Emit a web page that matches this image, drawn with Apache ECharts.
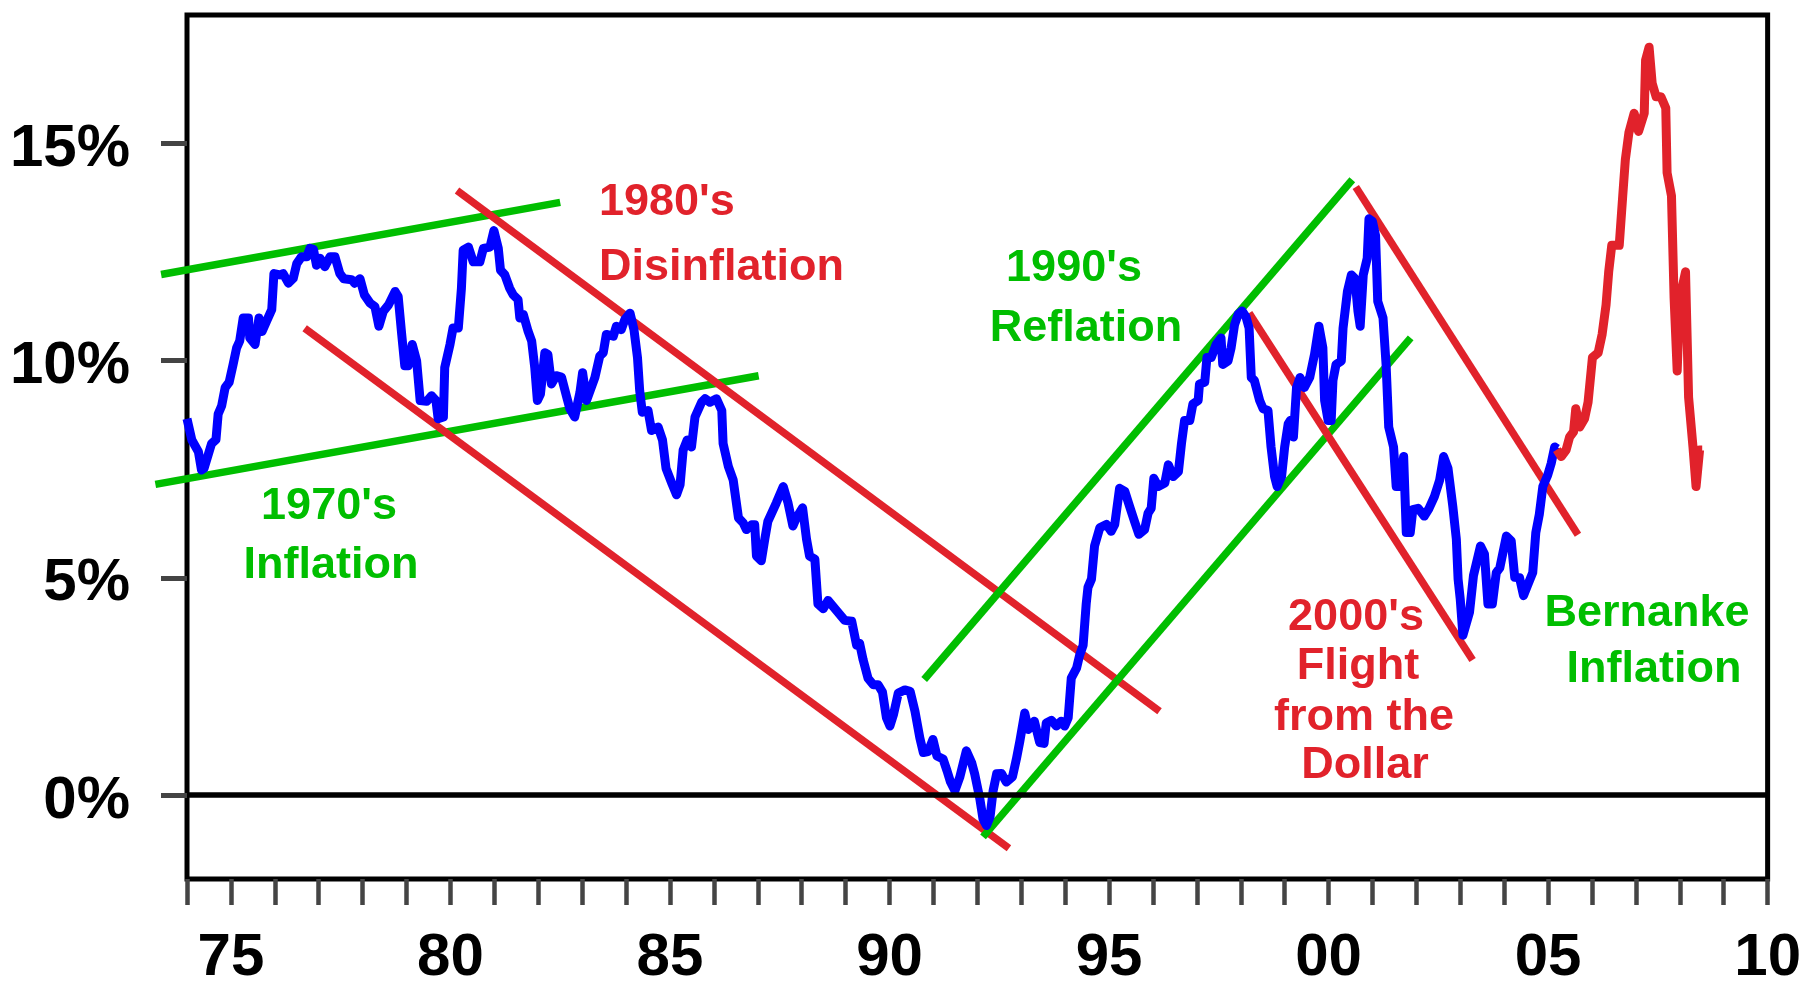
<!DOCTYPE html>
<html><head><meta charset="utf-8">
<script src="https://cdn.jsdelivr.net/npm/echarts@6/dist/echarts.min.js"></script>
<style>html,body{margin:0;padding:0;background:#fff}#c{width:1804px;height:988px}</style>
</head><body><div id="c"></div>
<script>
// ---- tick labels ----
const xLabelYears = [1975, 1980, 1985, 1990, 1995, 2000, 2005, 2010];
const yTickValues = [0, 5, 10, 15];

// ---- main series (year, percent) ----
const seriesBlue = [
[1974.00,8.66],[1974.11,8.17],[1974.26,7.90],[1974.33,7.48],[1974.39,7.52],[1974.56,8.09],[1974.66,8.18],[1974.71,8.77],
[1974.79,8.96],[1974.87,9.38],[1974.96,9.50],[1975.05,9.91],[1975.13,10.29],[1975.20,10.45],[1975.28,10.98],[1975.40,10.98],
[1975.43,10.52],[1975.55,10.37],[1975.64,10.98],[1975.71,10.67],[1975.81,10.90],[1975.93,11.17],[1975.98,12.00],[1976.12,11.97],
[1976.19,12.00],[1976.31,11.78],[1976.42,11.89],[1976.50,12.23],[1976.61,12.39],[1976.73,12.39],[1976.80,12.58],[1976.88,12.56],
[1976.95,12.19],[1977.03,12.35],[1977.14,12.16],[1977.26,12.39],[1977.37,12.39],[1977.48,12.00],[1977.57,11.88],[1977.75,11.86],
[1977.82,11.78],[1977.94,11.88],[1978.04,11.51],[1978.17,11.32],[1978.28,11.24],[1978.37,10.79],[1978.47,11.13],[1978.59,11.28],
[1978.74,11.59],[1978.81,11.47],[1978.89,10.60],[1978.96,9.88],[1979.04,9.88],[1979.13,10.37],[1979.23,9.99],[1979.31,9.08],
[1979.46,9.06],[1979.57,9.19],[1979.67,9.08],[1979.72,8.66],[1979.84,8.70],[1979.87,9.84],[1979.99,10.37],[1980.06,10.75],
[1980.18,10.75],[1980.25,11.66],[1980.29,12.54],[1980.41,12.61],[1980.52,12.27],[1980.67,12.27],[1980.75,12.58],[1980.90,12.61],
[1980.99,12.99],[1981.09,12.58],[1981.14,12.08],[1981.24,11.97],[1981.35,11.66],[1981.43,11.51],[1981.54,11.40],[1981.58,10.98],
[1981.66,11.06],[1981.77,10.67],[1981.85,10.45],[1981.92,9.84],[1981.98,9.08],[1982.05,9.23],[1982.15,10.18],[1982.22,10.14],
[1982.30,9.46],[1982.41,9.65],[1982.53,9.62],[1982.65,9.15],[1982.72,8.89],[1982.83,8.70],[1982.95,9.27],[1983.01,9.72],
[1983.10,9.08],[1983.29,9.61],[1983.40,10.10],[1983.48,10.18],[1983.55,10.60],[1983.71,10.56],[1983.78,10.79],[1983.89,10.71],
[1983.97,10.94],[1984.09,11.09],[1984.18,10.71],[1984.26,10.07],[1984.31,9.31],[1984.37,8.81],[1984.50,8.85],[1984.58,8.39],
[1984.73,8.47],[1984.83,8.17],[1984.91,7.52],[1985.04,7.18],[1985.15,6.91],[1985.23,7.14],[1985.30,7.94],[1985.39,8.17],
[1985.49,8.01],[1985.57,8.70],[1985.72,9.04],[1985.80,9.12],[1985.91,9.04],[1986.06,9.12],[1986.18,8.85],[1986.21,8.09],
[1986.33,7.56],[1986.44,7.25],[1986.56,6.38],[1986.67,6.26],[1986.74,6.11],[1986.86,6.22],[1986.93,6.22],[1986.97,5.50],
[1987.08,5.39],[1987.16,5.89],[1987.23,6.30],[1987.42,6.72],[1987.58,7.10],[1987.69,6.72],[1987.80,6.19],[1987.88,6.38],
[1988.02,6.61],[1988.11,5.89],[1988.18,5.50],[1988.30,5.43],[1988.37,4.40],[1988.49,4.29],[1988.60,4.48],[1988.79,4.25],
[1988.98,4.02],[1989.14,4.00],[1989.25,3.45],[1989.32,3.49],[1989.40,3.11],[1989.51,2.69],[1989.63,2.54],[1989.74,2.54],
[1989.84,2.37],[1989.93,1.78],[1990.01,1.59],[1990.09,1.85],[1990.20,2.35],[1990.35,2.42],[1990.47,2.39],[1990.58,1.93],
[1990.69,1.32],[1990.77,0.98],[1990.88,1.00],[1990.99,1.28],[1991.08,0.90],[1991.22,0.83],[1991.31,0.56],[1991.39,0.30],
[1991.49,0.10],[1991.60,0.41],[1991.75,1.02],[1991.87,0.75],[1991.94,0.49],[1992.06,-0.10],[1992.13,-0.55],[1992.21,-0.70],
[1992.29,-0.50],[1992.36,0.10],[1992.44,0.49],[1992.55,0.50],[1992.66,0.30],[1992.80,0.42],[1992.89,0.83],[1992.97,1.25],
[1993.08,1.89],[1993.16,1.51],[1993.30,1.70],[1993.42,1.21],[1993.52,1.19],[1993.57,1.66],[1993.69,1.72],[1993.80,1.59],
[1993.91,1.70],[1993.99,1.59],[1994.07,1.78],[1994.14,2.69],[1994.26,2.92],[1994.33,3.22],[1994.41,3.45],[1994.48,4.40],
[1994.52,4.78],[1994.60,4.97],[1994.67,5.73],[1994.79,6.15],[1994.94,6.23],[1995.05,6.07],[1995.13,6.23],[1995.24,7.06],
[1995.36,6.99],[1995.47,6.64],[1995.58,6.30],[1995.68,6.00],[1995.81,6.11],[1995.89,6.49],[1995.96,6.60],[1996.02,7.29],
[1996.12,7.10],[1996.27,7.18],[1996.35,7.60],[1996.46,7.33],[1996.58,7.44],[1996.65,8.09],[1996.72,8.62],[1996.84,8.62],
[1996.91,9.00],[1997.03,9.08],[1997.06,9.46],[1997.18,9.50],[1997.23,10.07],[1997.33,10.07],[1997.44,10.37],[1997.55,10.52],
[1997.59,9.91],[1997.71,9.99],[1997.78,10.29],[1997.86,10.83],[1997.94,11.06],[1998.03,11.14],[1998.12,11.00],[1998.19,10.75],
[1998.24,9.61],[1998.31,9.54],[1998.43,9.08],[1998.51,8.89],[1998.62,8.85],[1998.69,8.01],[1998.77,7.33],[1998.83,7.10],
[1998.93,7.33],[1999.00,8.01],[1999.08,8.54],[1999.13,8.62],[1999.20,8.24],[1999.27,9.38],[1999.35,9.61],[1999.45,9.38],
[1999.57,9.61],[1999.68,10.14],[1999.78,10.79],[1999.87,10.29],[1999.91,9.08],[1999.99,8.62],[2000.06,8.62],[2000.10,9.54],
[2000.17,9.91],[2000.29,9.99],[2000.33,10.75],[2000.43,11.59],[2000.52,11.97],[2000.60,11.89],[2000.67,11.13],[2000.72,10.79],
[2000.79,11.97],[2000.88,12.35],[2000.92,13.26],[2001.00,13.20],[2001.07,12.88],[2001.12,11.36],[2001.24,10.98],[2001.31,9.91],
[2001.37,8.47],[2001.48,8.01],[2001.54,7.10],[2001.62,7.10],[2001.71,7.79],[2001.77,6.04],[2001.86,6.04],[2001.92,6.57],
[2002.04,6.60],[2002.18,6.42],[2002.29,6.60],[2002.41,6.87],[2002.53,7.25],[2002.62,7.79],[2002.72,7.52],[2002.83,6.64],
[2002.91,5.89],[2002.95,4.97],[2003.00,4.50],[2003.06,3.68],[2003.21,4.21],[2003.30,5.05],[2003.46,5.73],[2003.55,5.55],
[2003.63,4.40],[2003.73,4.40],[2003.82,5.12],[2003.90,5.23],[2004.05,5.96],[2004.16,5.85],[2004.24,5.01],[2004.35,5.00],
[2004.44,4.59],[2004.53,4.82],[2004.65,5.12],[2004.72,6.04],[2004.80,6.46],[2004.88,7.10],[2004.99,7.36],[2005.07,7.63],
[2005.15,8.01],[2005.21,7.97]
];
const seriesRed = [
[2005.20,7.95],[2005.30,7.79],[2005.41,7.94],[2005.49,8.24],[2005.58,8.36],[2005.63,8.89],[2005.72,8.47],[2005.83,8.66],
[2005.91,9.04],[2006.01,10.07],[2006.14,10.18],[2006.23,10.60],[2006.32,11.28],[2006.38,12.04],[2006.45,12.65],[2006.62,12.65],
[2006.70,13.79],[2006.76,14.63],[2006.84,15.24],[2006.96,15.69],[2007.06,15.27],[2007.19,15.69],[2007.22,16.91],[2007.30,17.21],
[2007.37,16.38],[2007.46,16.07],[2007.57,16.07],[2007.68,15.81],[2007.71,14.32],[2007.81,13.79],[2007.87,11.43],[2007.94,9.76],
[2008.00,11.43],[2008.13,12.04],[2008.20,9.15],[2008.30,8.01],[2008.37,7.10],[2008.45,7.94],[2008.51,7.94]
];

// ---- trend channels: [startYear, startPct, endYear, endPct] ----
const trend70sUpper = [1973.41, 11.98, 1982.50, 13.64];
const trend70sLower = [1973.28, 7.15, 1987.02, 9.65];
const trend80sUpper = [1980.15, 13.91, 1996.15, 1.93];
const trend80sLower = [1976.68, 10.74, 1992.72, -1.22];
const trend90sUpper = [1990.79, 2.66, 2000.54, 14.16];
const trend90sLower = [1992.13, -0.96, 2001.87, 10.52];
const trend00sUpper = [2000.62, 13.99, 2005.68, 5.99];
const trend00sLower = [1998.19, 11.09, 2003.28, 3.11];
const zeroLine = [0];

const BLUE = '#0000FF', RED = '#E1222B', GREEN = '#00BE00';
const FONT = '"Liberation Sans", Arial, Helvetica, sans-serif';

function trend(seg, color) {
  return {
    type: 'custom', data: [seg], silent: true, clip: false, z: 2, animation: false,
    encode: { x: [0, 2], y: [1, 3] },
    renderItem: function (params, api) {
      const p1 = api.coord([api.value(0), api.value(1)]);
      const p2 = api.coord([api.value(2), api.value(3)]);
      return { type: 'line', shape: { x1: p1[0], y1: p1[1], x2: p2[0], y2: p2[1] },
        style: { stroke: color, lineWidth: 7.5, lineCap: 'butt' } };
    }
  };
}

const chart = echarts.init(document.getElementById('c'), null, { renderer: 'canvas' });
const annotFont = 'bold 45px ' + FONT;
function note(text, x, y, color, align) {
  return { type: 'text', x: x, y: y, z: 10, silent: true,
    style: { text: text, fill: color, font: annotFont, align: align || 'center', verticalAlign: 'middle' } };
}

chart.setOption({
  animation: false,
  backgroundColor: '#fff',
  grid: { left: 187, right: 36, top: 15, bottom: 102, show: true, borderColor: '#000', borderWidth: 5, backgroundColor: 'transparent', containLabel: false },
  xAxis: {
    type: 'value', min: 1974, max: 2010, interval: 1, position: 'bottom',
    axisLine: { show: false, onZero: false },
    splitLine: { show: false },
    axisTick: { show: true, inside: false, length: 26, lineStyle: { color: '#444', width: 4.5 } },
    axisLabel: {
      customValues: xLabelYears, margin: 49, color: '#000', fontSize: 60, fontWeight: 'bold', fontFamily: FONT,
      formatter: function (v) { const r = Math.round(v) % 100; return (r < 10 ? '0' : '') + r; }
    }
  },
  yAxis: {
    type: 'value', min: -1.93, max: 17.95,
    axisLine: { show: false, onZero: false },
    splitLine: { show: false },
    axisTick: { show: true, customValues: yTickValues, length: 26, lineStyle: { color: '#444', width: 5 } },
    axisLabel: {
      customValues: yTickValues, margin: 57, color: '#000', fontSize: 60, fontWeight: 'bold', fontFamily: FONT,
      verticalAlign: 'top', lineHeight: 12,
      formatter: function (v) { return v + '%'; }
    }
  },
  series: [
    { type: 'line', data: [], z: 1, silent: true, showSymbol: false,
      markLine: { silent: true, symbol: ['none', 'none'], label: { show: false }, animation: false,
        lineStyle: { color: '#000', width: 5.5, type: 'solid' }, data: zeroLine.map(function (v) { return { yAxis: v }; }) } },
    trend(trend70sUpper, GREEN),
    trend(trend70sLower, GREEN),
    trend(trend80sUpper, RED),
    trend(trend80sLower, RED),
    trend(trend90sUpper, GREEN),
    trend(trend90sLower, GREEN),
    trend(trend00sUpper, RED),
    trend(trend00sLower, RED),
    { type: 'line', data: seriesBlue, showSymbol: false, symbol: 'none', z: 3, silent: true,
      lineStyle: { color: BLUE, width: 9, join: 'round' } },
    { type: 'line', data: seriesRed, showSymbol: false, symbol: 'none', z: 3, silent: true,
      lineStyle: { color: RED, width: 9, join: 'round' } }
  ],
  graphic: [
    note("1980's", 599, 203, RED, 'left'),
    note('Disinflation', 599, 268, RED, 'left'),
    note("1970's", 329, 507, GREEN),
    note('Inflation', 331, 566, GREEN),
    note("1990's", 1074, 269, GREEN),
    note('Reflation', 1086, 329, GREEN),
    note("2000's", 1356, 618, RED),
    note('Flight', 1358, 667, RED),
    note('from the', 1364, 718, RED),
    note('Dollar', 1365, 766, RED),
    note('Bernanke', 1647, 614, GREEN),
    note('Inflation', 1654, 670, GREEN)
  ]
});
</script>
</body></html>
